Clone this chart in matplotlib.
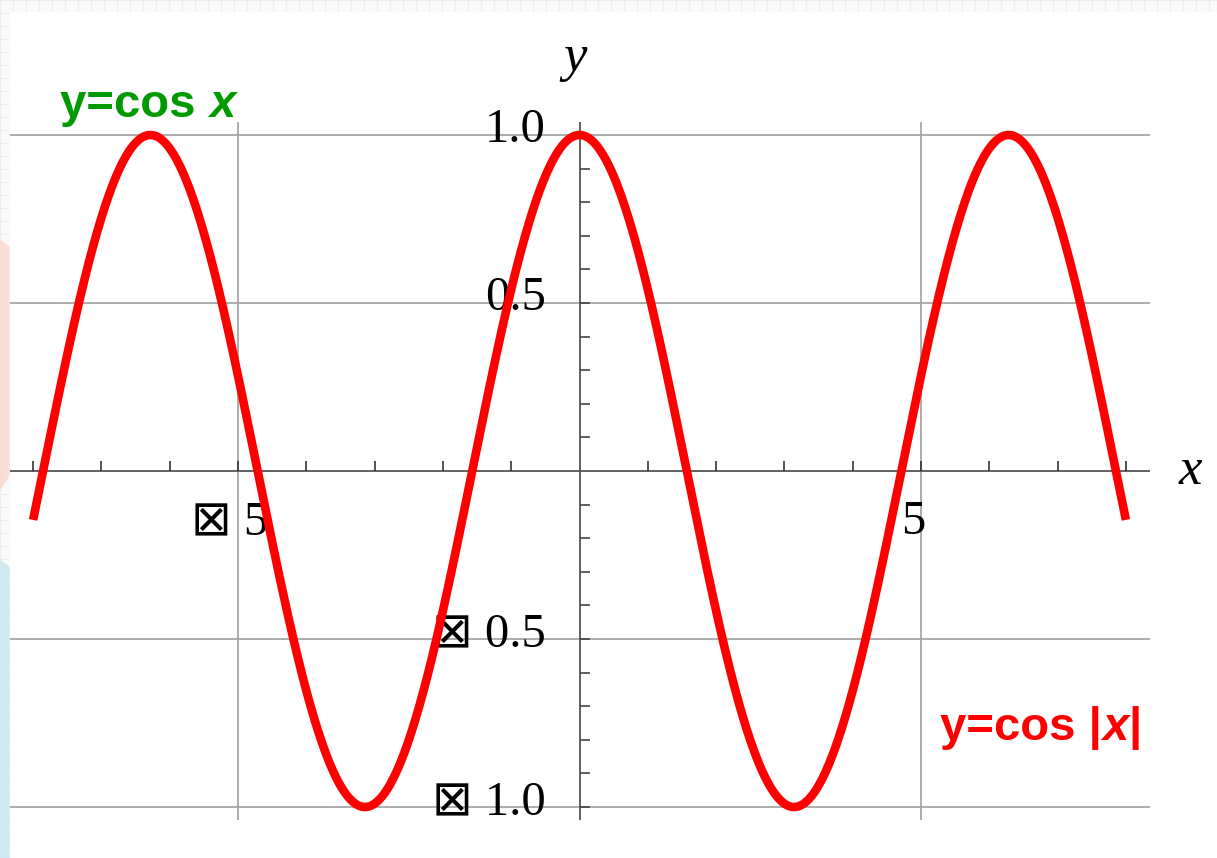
import numpy as np
import matplotlib.pyplot as plt
from matplotlib.patches import Rectangle, Polygon

# ---- Daten ----
x_min, x_max = -8, 8                     # Definitionsbereich der Kurve
x_ticks = list(range(-8, 9))             # kleine Striche auf der x-Achse
x_grid = [-5, 5]                         # senkrechte Gitterlinien
x_labels = {-5: '⊠ 5', 5: '5'}
y_ticks = [round(v, 1) for v in np.arange(-1.0, 1.01, 0.1) if abs(v) > 1e-9]
y_grid = [-1.0, -0.5, 0.5, 1.0]
y_labels = {1.0: '1.0', 0.5: '0.5', -0.5: '⊠ 0.5', -1.0: '⊠ 1.0'}

# Pixel -> Daten (Achsen fuellen die ganze Abbildung)
W, H = 1217, 858
x0_px, x_scale = 579.5, 68.3
y0_px, y_scale = 471.0, 336.0

fig = plt.figure(figsize=(W / 100, H / 100), dpi=100)

# ---- Hintergrund (Folienrand) ----
bg = fig.add_axes([0, 0, 1, 1])
bg.set_xlim(0, W)
bg.set_ylim(H, 0)
bg.axis('off')
bg.add_patch(Rectangle((0, 0), W, H, color='#fafafa', zorder=0))
for p in range(0, W, 13):
    bg.plot([p, p], [0, H], color='#ededed', lw=0.8, zorder=1)
for p in range(0, H, 13):
    bg.plot([0, W], [p, p], color='#ededed', lw=0.8, zorder=1)
bg.add_patch(Polygon([[0, 240], [12, 250], [12, 470], [0, 490]],
                     color='#fbdcd3', alpha=0.9, zorder=2))
bg.add_patch(Polygon([[0, 560], [12, 570], [12, H], [0, H]],
                     color='#cde9f1', alpha=0.9, zorder=2))
bg.add_patch(Rectangle((10, 12), W - 10, H - 12, color='white', zorder=3))

# ---- Diagramm ----
ax = fig.add_axes([0, 0, 1, 1])
ax.patch.set_alpha(0)
ax.set_xlim(-x0_px / x_scale, (W - x0_px) / x_scale)
ax.set_ylim((y0_px - H) / y_scale, y0_px / y_scale)
ax.axis('off')

xl, xr = (10 - x0_px) / x_scale, (1150 - x0_px) / x_scale
yb, yt = (y0_px - 820) / y_scale, (y0_px - 122) / y_scale

ax.hlines(y_grid, xl, xr, color='#a6a6a6', lw=1.3, zorder=1)
ax.vlines(x_grid, yb, yt, color='#a6a6a6', lw=1.3, zorder=1)
ax.hlines(0, xl, xr, color='#555555', lw=1.3, zorder=2)
ax.vlines(0, yb, yt, color='#555555', lw=1.3, zorder=2)

tick_h = 10 / y_scale
tick_w = 10 / x_scale
ax.vlines([t for t in x_ticks if t != 0], 0, tick_h, color='#333333', lw=1.2, zorder=2)
ax.hlines(y_ticks, 0, tick_w, color='#444444', lw=1.2, zorder=2)

serif = ['Liberation Serif', 'DejaVu Sans']
for xv, lab in x_labels.items():
    ax.text(xv - 0.12, -0.153, lab, family=serif, fontsize=35,
            ha='center', va='center', zorder=3)
for yv, lab in y_labels.items():
    ax.text(-0.49, yv + 0.015, lab, family=serif, fontsize=35,
            ha='right', va='center', zorder=3)

ax.text(-0.07, 1.23, 'y', family='Liberation Serif', style='italic',
        fontsize=38, ha='center', va='center')
ax.text(8.94, 0.0, 'x', family='Liberation Serif', style='italic',
        fontsize=38, ha='center', va='center')

# Kurve y = cos|x|
xs = np.linspace(x_min, x_max, 801)
ax.plot(xs, np.cos(np.abs(xs)), color='#ff0000', lw=6.2,
        solid_capstyle='butt', zorder=4)

# Beschriftungen
sans = dict(family='Liberation Sans', weight='bold', fontsize=34)
g1 = ax.text((60 - x0_px) / x_scale, (y0_px - 117) / y_scale, 'y=cos ',
             color='#009a00', va='baseline', ha='left', **sans)
ax.annotate('x', xy=(1, 0), xycoords=g1, va='bottom', ha='left',
            color='#009a00', style='italic', **sans)

r1 = ax.text((940 - x0_px) / x_scale, (y0_px - 740) / y_scale, 'y=cos |',
             color='#ff0000', va='baseline', ha='left', **sans)
r2 = ax.annotate('x', xy=(1, 0), xycoords=r1, va='bottom', ha='left',
                 color='#ff0000', style='italic', **sans)
ax.annotate('|', xy=(1, 0), xycoords=r2, va='bottom', ha='left',
            color='#ff0000', **sans)

plt.savefig('out.png', dpi=100)
